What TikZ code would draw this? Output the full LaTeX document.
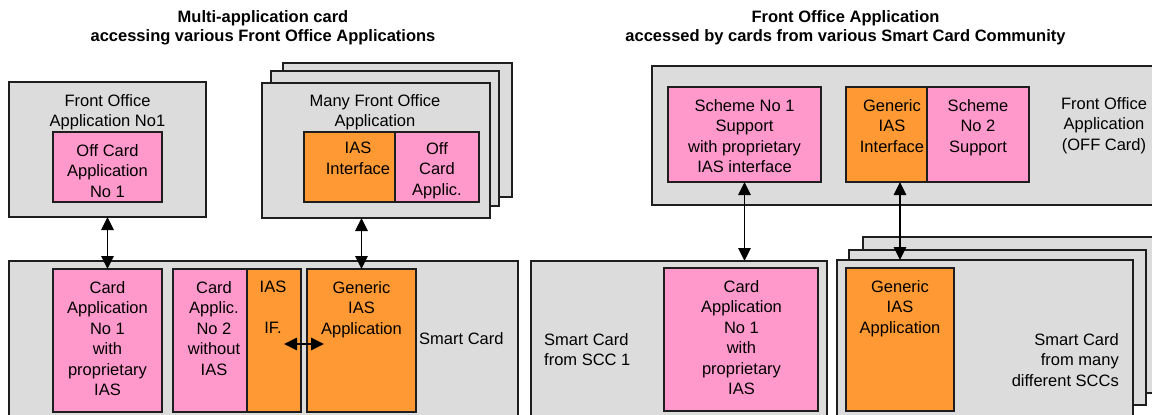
\documentclass[tikz,border=0pt]{standalone}
\usepackage{fontspec}
\setmainfont{Liberation Sans}
\usepackage{tikz}
\usetikzlibrary{arrows.meta,positioning}

\definecolor{cardgray}{HTML}{DCDCDC}
\definecolor{apppink}{HTML}{FF99CC}
\definecolor{iasorange}{HTML}{FF9933}
\definecolor{edgegray}{HTML}{1E1E1E}

\begin{document}
\begin{tikzpicture}[x=1pt,y=-1pt,
        box/.style={draw=edgegray, line width=1.2pt, inner sep=0pt, outer sep=0pt, anchor=north west},
        panel/.style={box, fill=cardgray},
        app/.style={box, fill=apppink},
        ias/.style={box, fill=iasorange},
        txt/.style={inner sep=0pt, align=center, anchor=north, font=\fontsize{16.5}{20.5}\selectfont},
        head/.style={txt, font=\fontsize{16.5}{19.5}\selectfont\bfseries},
        link/.style={{Triangle[length=13pt,width=12.5pt]}-{Triangle[length=13pt,width=12.5pt]}, line width=1.6pt}]
        \useasboundingbox (0,0) rectangle (1152,415);
        \clip (0,0) rectangle (1152,415);
        \fill[white] (0,0) rectangle (1152,415);

        % multi-application card
        \node[head] (t1) at (263,10) {Multi-application card\\accessing various Front Office Applications};
        \node[panel, minimum width=197pt, minimum height=135pt] (f1) at (9,82) {};
        \node[app, minimum width=109pt, minimum height=70pt] (p1) at (53,132) {};
        \node[txt] (f1t) at (107.5,94) {Front Office\\Application No1};
        \node[txt] (p1t) at (107.5,144) {Off Card\\Application\\No 1};

        \node[panel, minimum width=229pt, minimum height=134pt] (lb) at (283,63) {};
        \node[panel, minimum width=228pt, minimum height=135pt] (lm) at (271,71) {};
        \node[panel, minimum width=228pt, minimum height=135pt] (lf) at (262,83) {};
        \node[ias, minimum width=91pt, minimum height=70pt] (o1) at (304,132) {};
        \node[app, minimum width=84pt, minimum height=70pt] (p2) at (395,132) {};
        \node[txt] (lft) at (375,94) {Many Front Office\\Application};
        \node[txt] (o1t) at (358,142) {IAS\\Interface};
        \node[txt] (p2t) at (437,142) {Off\\Card\\Applic.};

        \node[panel, minimum width=509pt, minimum height=169pt] (s1) at (9,261) {};
        \node[app, minimum width=109pt, minimum height=143pt] (p3) at (53,269) {};
        \node[app, minimum width=83pt, minimum height=143pt] (p4) at (173,269) {};
        \node[ias, minimum width=54pt, minimum height=143pt] (o2) at (247,269) {};
        \node[ias, minimum width=109pt, minimum height=143pt] (o3) at (307,269) {};
        \node[txt] (p3t) at (107.5,281) {Card\\Application\\No 1\\with\\proprietary\\IAS};
        \node[txt] (p4t) at (214,281) {Card\\Applic.\\No 2\\without\\IAS};
        \node[txt] (o2t) at (273,281) {IAS\\[20.5pt]IF.};
        \node[txt] (o3t) at (361.5,281) {Generic\\IAS\\Application};
        \node[txt, anchor=base west] (s1t) at (419,344) {Smart Card};

        \draw[link] (f1.south -| p3.north) -- (p3.north);
        \draw[link] (o3.north |- lf.south) -- (o3.north);
        \draw[link] ([xshift=-17pt,yshift=-3.5pt]o2.east) -- ([xshift=17pt,yshift=-3.5pt]o3.west);

        % front office application
        \node[head] (t2) at (845.5,10) {Front Office Application\\accessed by cards from various Smart Card Community};
        \node[panel, minimum width=504pt, minimum height=139pt] (f2) at (652,66) {};
        \node[app, minimum width=153pt, minimum height=95pt] (p5) at (668,87) {};
        \node[ias, minimum width=81pt, minimum height=95pt] (o4) at (846,87) {};
        \node[app, minimum width=102pt, minimum height=95pt] (p6) at (927,87) {};
        \node[txt] (p5t) at (744.5,99) {Scheme No 1\\Support\\with proprietary\\IAS interface};
        \node[txt] (o4t) at (892,99) {Generic\\IAS\\Interface};
        \node[txt] (p6t) at (978,99) {Scheme\\No 2\\Support};
        \node[txt] (f2t) at (1104,97) {Front Office\\Application\\(OFF Card)};

        \node[panel, minimum width=296pt, minimum height=169pt] (s2) at (531,261) {};
        \node[app, minimum width=154pt, minimum height=143pt] (p7) at (664,268) {};
        \node[txt] (p7t) at (741.5,280) {Card\\Application\\No 1\\with\\proprietary\\IAS};
        \node[txt, align=left, anchor=north west] (s2t) at (544,333) {Smart Card\\from SCC 1};

        \node[panel, minimum width=297pt, minimum height=156pt] (rb) at (863,237) {};
        \node[panel, minimum width=297pt, minimum height=155pt] (rm) at (849,250) {};
        \node[panel, minimum width=296pt, minimum height=170pt] (rf) at (837,260) {};
        \node[ias, minimum width=108pt, minimum height=143pt] (o5) at (846,268) {};
        \node[txt] (o5t) at (900,280) {Generic\\IAS\\Application};
        \node[txt, align=right, anchor=north east] (rft) at (1119,333) {Smart Card\\from many\\different SCCs};

        \draw[link] (p5.south) -- (p5.south |- s2.north);
        \draw[link] (o5.north |- o4.south) -- (o5.north |- rf.north);
\end{tikzpicture}
\end{document}
